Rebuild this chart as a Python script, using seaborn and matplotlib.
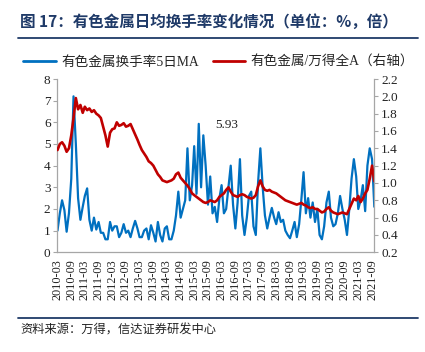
import numpy as np
import pandas as pd
import matplotlib
matplotlib.use("Agg")
import matplotlib.pyplot as plt
import matplotlib.dates as mdates
from matplotlib.lines import Line2D
import seaborn as sns

# ---------------- data (monthly, 2010-03 .. 2021-10) ----------------
start_month = "2010-03-01"
turnover_ma5 = [
    1.0, 1.8, 2.4, 1.95, 0.95, 1.8, 3.4, 7.2, 5.0, 2.5,
    1.5, 2.1, 2.6, 2.95, 1.5, 1.0, 1.6, 1.05, 1.4, 0.9,
    0.9, 0.6, 0.6, 1.4, 1.0, 1.2, 1.2, 0.7, 0.9, 1.3,
    0.9, 1.0, 0.7, 1.1, 1.45, 1.1, 0.7, 0.7, 1.0, 1.1,
    0.6, 1.25, 0.9, 0.5, 1.4, 0.8, 0.5, 1.1, 1.2, 0.6,
    0.6, 1.0, 1.7, 2.8, 1.6, 2.0, 2.4, 4.8, 2.4, 3.1,
    4.9, 2.7, 5.93, 3.0, 5.4, 4.0, 2.2, 3.5, 1.8, 2.1,
    1.4, 2.5, 3.1, 1.8, 2.0, 3.0, 4.0, 2.2, 1.1, 2.3,
    4.3, 1.7, 0.8, 1.6, 2.6, 2.8, 1.2, 0.8, 3.2, 4.8,
    3.0, 1.7, 1.1, 1.6, 2.05, 1.6, 1.3, 1.85, 1.4, 1.5,
    1.0, 0.8, 0.65, 1.0, 1.4, 0.7, 1.3, 2.5, 3.7, 1.8,
    2.5, 1.6, 2.3, 1.4, 2.0, 0.8, 0.6, 1.2, 2.3, 2.8,
    1.6, 1.2, 1.3, 1.8, 2.6, 2.0, 1.5, 0.8, 2.0, 3.4,
    4.3, 3.5, 2.0, 2.4, 3.1, 1.9, 4.0, 4.8, 4.3, 2.1,
]
relative_to_wind_a = [
    1.38, 1.45, 1.47, 1.43, 1.36, 1.40, 1.55, 1.75, 1.98, 1.85,
    1.90, 1.81, 1.88, 1.84, 1.86, 1.82, 1.84, 1.80, 1.78, 1.75,
    1.65, 1.55, 1.42, 1.58, 1.62, 1.63, 1.70, 1.66, 1.67, 1.69,
    1.65, 1.66, 1.68, 1.62, 1.56, 1.50, 1.44, 1.38, 1.34, 1.30,
    1.25, 1.23, 1.20, 1.15, 1.10, 1.07, 1.03, 1.02, 1.01, 1.02,
    1.03, 1.05, 1.10, 1.12, 1.06, 1.03, 1.00, 0.97, 0.93, 0.88,
    0.86, 0.84, 0.82, 0.80, 0.78, 0.77, 0.78, 0.80, 0.79, 0.78,
    0.80, 0.84, 0.86, 0.88, 0.92, 0.95, 0.90, 0.86, 0.85, 0.84,
    0.86, 0.87, 0.86, 0.84, 0.83, 0.82, 0.83, 0.86, 0.96, 1.03,
    0.96, 0.92, 0.91, 0.92, 0.90, 0.89, 0.88, 0.86, 0.84, 0.82,
    0.80, 0.79, 0.78, 0.77, 0.76, 0.75, 0.76, 0.77, 0.75, 0.74,
    0.72, 0.71, 0.72, 0.70, 0.70, 0.68, 0.66, 0.67, 0.70, 0.72,
    0.68, 0.66, 0.65, 0.64, 0.65, 0.66, 0.65, 0.64, 0.70, 0.76,
    0.82, 0.80, 0.85, 0.78, 0.82, 0.88, 0.92, 1.05, 1.20, 1.02,
]
peak_label = "5.93"
title_text = "图 17：有色金属日均换手率变化情况（单位：%，倍）"
label_blue = "有色金属换手率5日MA"
label_red = "有色金属/万得全A（右轴）"
source_text = "资料来源：万得，信达证券研发中心"

dates = pd.date_range(start_month, periods=len(turnover_ma5), freq="MS")
df = pd.DataFrame({"date": dates, "turnover": turnover_ma5, "ratio": relative_to_wind_a})

# ---------------- style ----------------
sns.set_style("white")
plt.rcParams["font.family"] = ["Liberation Serif", "Noto Sans CJK SC", "DejaVu Sans"]

BLUE = "#0070C0"
RED = "#C00000"
NAVY = "#1F3A68"
GRAY = "#A6A6A6"

fig = plt.figure(figsize=(4.25, 3.52), dpi=100)
ax = fig.add_axes([57.5 / 425, 1 - 252.3 / 352, (374.3 - 57.5) / 425, (252.3 - 79) / 352])
ax2 = ax.twinx()

sns.lineplot(data=df, x="date", y="turnover", ax=ax, color=BLUE, linewidth=1.6, legend=False)
sns.lineplot(data=df, x="date", y="ratio", ax=ax2, color=RED, linewidth=1.9, legend=False)

ax.set_xlim(df["date"].iloc[0], df["date"].iloc[-1])
ax.set_ylim(0, 8)
ax2.set_ylim(0.2, 2.2)
ax.set_yticks(np.arange(0, 9, 1))
ax2.set_yticks(np.arange(0.2, 2.21, 0.2))
ax2.yaxis.set_major_formatter(matplotlib.ticker.FormatStrFormatter("%.1f"))
ax.yaxis.set_major_formatter(matplotlib.ticker.FormatStrFormatter("%d"))
ax.xaxis.set_major_locator(mdates.MonthLocator(bymonth=[3, 9]))
ax.xaxis.set_major_formatter(mdates.DateFormatter("%Y-%m"))
ax.set_xlabel("")
ax.set_ylabel("")
ax2.set_ylabel("")

for a in (ax, ax2):
    for s in a.spines.values():
        s.set_color(GRAY)
        s.set_linewidth(0.9)
    a.spines["top"].set_visible(False)
ax.spines["right"].set_visible(False)
ax2.spines["left"].set_visible(False)
ax2.spines["bottom"].set_visible(False)

ax.tick_params(axis="y", direction="out", length=3, width=0.8, color=GRAY, labelsize=9.5, pad=2, labelcolor="#222222")
ax2.tick_params(axis="y", direction="out", length=3, width=0.8, color=GRAY, labelsize=9.5, pad=2, labelcolor="#222222")
ax.tick_params(axis="x", direction="out", length=3, width=0.8, color=GRAY, labelsize=8.8, pad=2,
               labelrotation=90, labelcolor="#222222")
ax.grid(False)
ax2.grid(False)

# peak annotation (2015 high)
peak_idx = turnover_ma5.index(float(peak_label))
ax.annotate(peak_label, xy=(df["date"][peak_idx], turnover_ma5[peak_idx]),
            xytext=(20, -1), textcoords="offset points", fontsize=9.5, ha="center", va="center",
            color="#222222")

# legend
handles = [Line2D([0], [0], color=BLUE, lw=2), Line2D([0], [0], color=RED, lw=2)]
fig.legend(handles, [label_blue, label_red], loc="center", bbox_to_anchor=(0.515, 1 - 62 / 352),
           ncol=2, frameon=False, handlelength=2.4, columnspacing=1.0, handletextpad=0.4,
           prop={"size": 9.8})

# title, rules and source
fig.text(20 / 425, 1 - 22 / 352, title_text, fontsize=11.2, fontweight="bold", color=NAVY,
         ha="left", va="center", family=["Noto Sans CJK SC", "DejaVu Sans"])
fig.add_artist(Line2D([18 / 425, 418 / 425], [1 - 38 / 352, 1 - 38 / 352], color=NAVY, lw=1.3))
fig.add_artist(Line2D([18 / 425, 418 / 425], [1 - 318 / 352, 1 - 318 / 352], color=NAVY, lw=1.3))
fig.text(20 / 425, 1 - 330 / 352, source_text, fontsize=8.8, color="#222222", ha="left", va="center",
         style="italic", family=["Noto Sans CJK SC", "DejaVu Sans"])

fig.savefig("out.png", dpi=100)
